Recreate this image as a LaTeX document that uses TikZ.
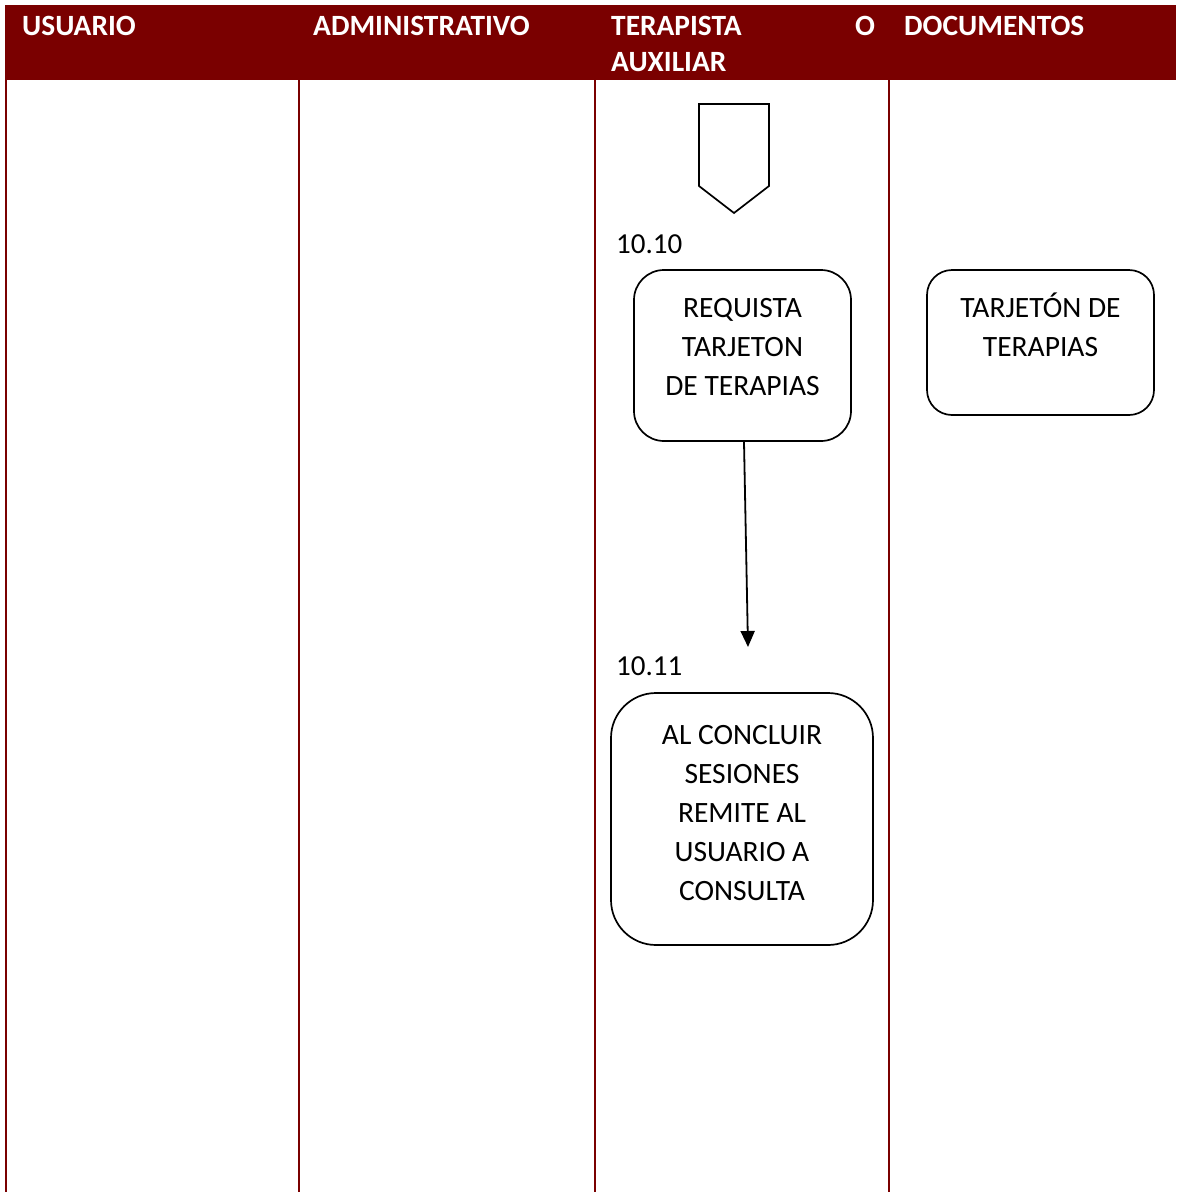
\documentclass[tikz,border=0pt]{standalone}
\usepackage{fontspec}
\setmainfont{Carlito}
\usetikzlibrary{arrows.meta}
\definecolor{laneRed}{HTML}{7A0000}
\begin{document}
\begin{tikzpicture}[x=1pt,y=-1pt,
  lane/.style={draw=laneRed, line width=2pt},
  headtext/.style={anchor=base west, inner sep=0pt, text=white,
    font=\bfseries\fontsize{29.4}{36}\selectfont},
  stepbox/.style={draw, line width=1.7pt, inner sep=0pt},
  boxtext/.style={anchor=base, inner sep=0pt, align=center,
    font=\fontsize{29.5}{39}\selectfont},
  numtext/.style={anchor=base west, inner sep=0pt,
    font=\fontsize{29}{34}\selectfont},
]
\useasboundingbox (0,0) rectangle (1176,1192);

% header band
\fill[laneRed] (5,5) rectangle (1176,80);

% swimlane separators
\draw[lane] (6,79) -- (6,1192);
\draw[lane] (299,79) -- (299,1192);
\draw[lane] (595,79) -- (595,1192);
\draw[lane] (889,79) -- (889,1192);

% lane titles
\node[headtext] (hUsuario) at (22,35) {USUARIO};
\node[headtext] (hAdmin) at (313,35) {ADMINISTRATIVO};
\node[headtext] (hTerapista) at (611,35) {TERAPISTA};
\node[headtext] (hO) at (855,35) {O};
\node[headtext] (hAuxiliar) at (611,71) {AUXILIAR};
\node[headtext] (hDocs) at (904,35) {DOCUMENTOS};

% off-page connector
\draw[line width=1.7pt, line join=miter]
  (699,104) -- (769,104) -- (769,186) -- (734,213) -- (699,186) -- cycle;

% step 10.10 (text nodes are placed by the baseline of their last line)
\node[numtext] (n1010) at (616,253) {10.10};
\node[stepbox, rounded corners=30pt, minimum width=217pt, minimum height=171pt]
  (req) at (742.5,355.5) {};
\node[boxtext] (reqText) at (742.5,395) {REQUISTA\\TARJETON\\DE TERAPIAS};

% document
\node[stepbox, rounded corners=25pt, minimum width=227pt, minimum height=145pt]
  (doc) at (1040.5,342.5) {};
\node[boxtext] (docText) at (1040.5,356) {TARJETÓN DE\\TERAPIAS};

% step 10.11
\coordinate (arrEnd) at (748,647);
\draw[line width=1.8pt, -{Triangle[length=16pt,width=14pt]}]
  ([xshift=1.5pt]req.south) -- (arrEnd);
\node[numtext] (n1011) at (616,675) {10.11};
\node[stepbox, rounded corners=45pt, minimum width=262pt, minimum height=252pt]
  (con) at (742,819) {};
\node[boxtext] (conText) at (742,900)
  {AL CONCLUIR\\SESIONES\\REMITE AL\\USUARIO A\\CONSULTA};
\end{tikzpicture}
\end{document}
